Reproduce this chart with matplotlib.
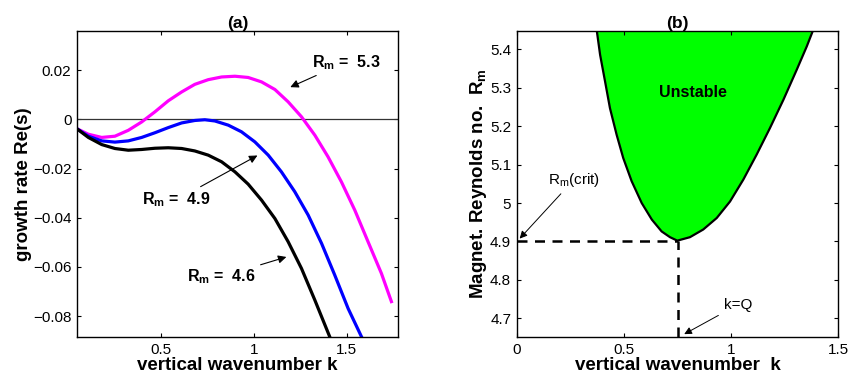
import matplotlib
matplotlib.use("Agg")
import matplotlib.pyplot as plt

plt.rcParams["font.family"] = ["Liberation Sans", "DejaVu Sans"]
plt.rcParams["mathtext.fontset"] = "custom"
plt.rcParams["mathtext.rm"] = "Liberation Sans"
plt.rcParams["mathtext.bf"] = "Liberation Sans:bold"
plt.rcParams["mathtext.it"] = "Liberation Sans:italic"

# panel (a): growth rate curves
k_53 = [0.046, 0.109, 0.181, 0.252, 0.324, 0.396, 0.467, 0.539, 0.611, 0.682, 0.754, 0.826, 0.898,
        0.969, 1.041, 1.113, 1.184, 1.256, 1.328, 1.399, 1.471, 1.543, 1.614, 1.686, 1.740]
s_53 = [-0.0037, -0.0060, -0.0073, -0.0068, -0.0044, -0.0010, 0.0031, 0.0076, 0.0112, 0.0143, 0.0162,
        0.0173, 0.0176, 0.0171, 0.0153, 0.0122, 0.0072, 0.0011, -0.0064, -0.0152, -0.0254, -0.0369,
        -0.0497, -0.0626, -0.0741]

k_49 = [0.046, 0.109, 0.181, 0.252, 0.324, 0.396, 0.467, 0.539, 0.611, 0.682, 0.736, 0.790, 0.862,
        0.933, 1.005, 1.077, 1.148, 1.220, 1.292, 1.364, 1.435, 1.507, 1.579]
s_49 = [-0.0037, -0.0068, -0.0087, -0.0092, -0.0087, -0.0073, -0.0054, -0.0033, -0.0014, -0.0004,
        -0.0001, -0.0006, -0.0023, -0.0050, -0.0091, -0.0145, -0.0213, -0.0294, -0.0389, -0.0504,
        -0.0633, -0.0769, -0.0884]

k_46 = [0.046, 0.109, 0.181, 0.252, 0.324, 0.396, 0.467, 0.539, 0.611, 0.682, 0.754, 0.826, 0.898,
        0.969, 1.041, 1.113, 1.184, 1.256, 1.328, 1.408]
s_46 = [-0.0037, -0.0073, -0.0102, -0.0118, -0.0125, -0.0122, -0.0117, -0.0115, -0.0118, -0.0128,
        -0.0145, -0.0172, -0.0213, -0.0263, -0.0328, -0.0403, -0.0497, -0.0606, -0.0735, -0.0884]

# panel (b): marginal stability boundary (left branch, then right branch)
k_left = [0.373, 0.389, 0.412, 0.435, 0.466, 0.497, 0.536, 0.583, 0.630, 0.676, 0.715, 0.749]
rm_left = [5.451, 5.386, 5.317, 5.247, 5.178, 5.117, 5.057, 5.000, 4.957, 4.926, 4.911, 4.902]
k_right = [0.808, 0.870, 0.933, 0.995, 1.057, 1.119, 1.181, 1.244, 1.306, 1.353, 1.383]
rm_right = [4.911, 4.931, 4.961, 5.004, 5.061, 5.126, 5.195, 5.269, 5.347, 5.408, 5.451]
k_crit = 0.75
rm_crit = 4.9

fig = plt.figure(figsize=(8.49, 3.75), dpi=100)
ax1 = fig.add_axes([0.0907, 0.1013, 0.378, 0.816])
ax2 = fig.add_axes([0.6086, 0.1013, 0.3788, 0.816])

for ax in (ax1, ax2):
    ax.tick_params(direction="in", top=True, right=True, length=3, labelsize=11, pad=4)
    for sp in ax.spines.values():
        sp.set_linewidth(1.0)

# (a)
ax1.axhline(0, color="#333333", lw=0.9)
ax1.plot(k_53, s_53, color="#ff00ff", lw=2.3)
ax1.plot(k_49, s_49, color="#0000ff", lw=2.3)
ax1.plot(k_46, s_46, color="black", lw=2.3)
ax1.set_xlim(0.048, 1.775)
ax1.set_ylim(-0.0885, 0.036)
ax1.set_xticks([0.5, 1, 1.5])
ax1.set_xticklabels(["0.5", "1", "1.5"])
ax1.set_yticks([-0.08, -0.06, -0.04, -0.02, 0, 0.02])
ax1.set_yticklabels(["\u22120.08", "\u22120.06", "\u22120.04", "\u22120.02", "0", "0.02"])
ax1.set_xlabel("vertical wavenumber k", fontsize=13.5, fontweight="bold", labelpad=0)
ax1.set_ylabel("growth rate Re(s)", fontsize=13.5, fontweight="bold", labelpad=1)
ax1.set_title("(a)", fontsize=12.5, fontweight="bold", pad=2)

arrow = dict(arrowstyle="-|>", color="black", lw=0.8, mutation_scale=12)
ax1.annotate(r"$\mathbf{R_m}$ =  5.3", xy=(1.182, 0.0127), xytext=(1.31, 0.0233),
             fontsize=11.5, fontweight="bold", va="center", ha="left", arrowprops=arrow)
ax1.annotate(r"$\mathbf{R_m}$ =  4.9", xy=(1.032, -0.0141), xytext=(0.397, -0.0328),
             fontsize=11.5, fontweight="bold", va="center", ha="left", arrowprops=arrow)
ax1.annotate(r"$\mathbf{R_m}$ =  4.6", xy=(1.189, -0.0556), xytext=(0.638, -0.064),
             fontsize=11.5, fontweight="bold", va="center", ha="left", arrowprops=arrow)

# (b)
k_curve = k_left + k_right
rm_curve = rm_left + rm_right
ax2.fill(k_curve, rm_curve, color="#00ff00", lw=0)
ax2.plot(k_curve, rm_curve, color="black", lw=1.6)
ax2.plot([0, k_crit], [rm_crit, rm_crit], color="black", lw=1.8, ls=(0, (4, 3)))
ax2.plot([k_crit, k_crit], [4.65, rm_crit], color="black", lw=1.8, ls=(0, (4, 3)))
ax2.set_xlim(0, 1.5)
ax2.set_ylim(4.651, 5.448)
ax2.set_xticks([0, 0.5, 1, 1.5])
ax2.set_xticklabels(["0", "0.5", "1", "1.5"])
ax2.set_yticks([4.7, 4.8, 4.9, 5.0, 5.1, 5.2, 5.3, 5.4])
ax2.set_yticklabels(["4.7", "4.8", "4.9", "5", "5.1", "5.2", "5.3", "5.4"])
ax2.set_xlabel("vertical wavenumber  k", fontsize=13.5, fontweight="bold", labelpad=0)
ax2.set_ylabel(r"Magnet. Reynolds no.  $\mathbf{R_m}$", fontsize=13.5, fontweight="bold", labelpad=1)
ax2.set_title("(b)", fontsize=12.5, fontweight="bold", pad=2)
ax2.text(0.824, 5.287, "Unstable", fontsize=11.5, fontweight="bold", ha="center", va="center")

thin = dict(arrowstyle="-|>", color="black", lw=0.7, mutation_scale=11)
ax2.annotate(r"$\mathrm{R_m}$(crit)", xy=(0.005, 4.902), xytext=(0.144, 5.06),
             fontsize=11, va="center", ha="left", arrowprops=thin)
ax2.annotate("k=Q", xy=(0.77, 4.655), xytext=(0.965, 4.735),
             fontsize=11, va="center", ha="left", arrowprops=thin)

fig.savefig("out.png", dpi=100)
